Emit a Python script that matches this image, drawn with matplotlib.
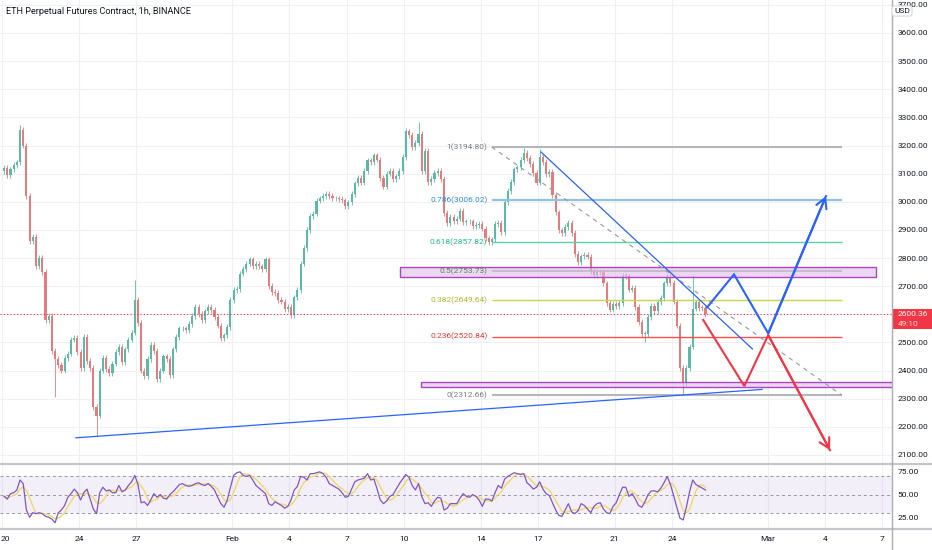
import numpy as np
import pandas as pd
import matplotlib
matplotlib.use("Agg")
import matplotlib.pyplot as plt
from matplotlib.patches import Rectangle
from matplotlib.lines import Line2D
import matplotlib.transforms as mtransforms

plt.rcParams['font.family'] = ['Roboto', 'DejaVu Sans']

# ---------------- data ----------------
TITLE = "ETH Perpetual Futures Contract, 1h, BINANCE"
CANDLE_HOURS = 4            # candles at 4h resolution
first_open = 3110
closes = [
    3120, 3095, 3115, 3130, 3140, 3255, 3200, 3020, 2860, 2875,
    2770, 2800, 2750, 2580, 2595, 2470, 2440, 2420, 2400, 2445,
    2460, 2510, 2515, 2465, 2410, 2520, 2435, 2410, 2270, 2240,
    2400, 2445, 2405, 2390, 2425, 2465, 2485, 2430, 2475, 2510,
    2535, 2650, 2570, 2400, 2380, 2440, 2490, 2470, 2370, 2400,
    2450, 2440, 2385, 2475, 2520, 2550, 2550, 2545, 2565, 2595,
    2625, 2600, 2580, 2610, 2625, 2615, 2590, 2560, 2515, 2525,
    2555, 2650, 2686, 2690, 2745, 2760, 2780, 2795, 2770, 2780,
    2770, 2760, 2795, 2700, 2680, 2675, 2650, 2645, 2618, 2625,
    2598, 2660, 2686, 2780, 2835, 2900, 2950, 2958, 3004, 3012,
    3020, 3028, 3020, 3012, 3012, 3010, 3005, 2985, 2998, 3028,
    3065, 3085, 3068, 3110, 3147, 3140, 3165, 3150, 3085, 3054,
    3100, 3110, 3080, 3090, 3110, 3160, 3250, 3238, 3195, 3210,
    3240, 3110, 3180, 3070, 3080, 3103, 3110, 3080, 2960, 2925,
    2945, 2930, 2940, 2968, 2928, 2930, 2930, 2915, 2918, 2920,
    2905, 2870, 2856, 2866, 2920, 2925, 2892, 3000, 3038, 3070,
    3115, 3122, 3148, 3175, 3155, 3135, 3103, 3068, 3160, 3142,
    3098, 3105, 3025, 2962, 2898, 2890, 2910, 2925, 2890, 2815,
    2785, 2806, 2811, 2805, 2755, 2740, 2752, 2750, 2710, 2640,
    2617, 2636, 2629, 2640, 2737, 2735, 2688, 2695, 2625, 2572,
    2530, 2530, 2590, 2630, 2612, 2643, 2658, 2710, 2733, 2712,
    2645, 2560, 2410, 2355, 2410, 2485, 2620, 2642, 2623, 2622,
    2600.36,
]
# notable wick extremes (candle index -> price)
wick_highs = {5: 3272, 41: 2722, 126: 3262, 130: 3285, 163: 3190, 168: 3188, 216: 2738}
wick_lows = {16: 2307, 29: 2168, 201: 2500, 213: 2312}

rsi = [
    48, 45, 51, 52, 55, 66, 62, 33, 25, 30,
    29, 30, 29, 26, 25, 23, 19, 30, 33, 38,
    47, 51, 56, 52, 44, 52, 56, 45, 34, 29,
    52, 58, 54, 55, 52, 52, 60, 53, 55, 60,
    64, 71, 61, 41, 42, 38, 44, 51, 47, 50,
    46, 45, 50, 53, 57, 61, 62, 60, 59, 60,
    62, 63, 61, 60, 62, 59, 55, 47, 40, 36,
    44, 58, 71, 74, 75, 71, 70, 71, 66, 60,
    57, 54, 51, 40, 38, 42, 40, 38, 35, 37,
    44, 55, 59, 70, 69, 66, 73, 73, 74, 75,
    73, 69, 62, 60, 58, 56, 52, 47, 48, 56,
    64, 66, 67, 68, 73, 66, 67, 56, 44, 40,
    43, 48, 50, 56, 62, 67, 72, 69, 60, 55,
    62, 48, 40, 41, 37, 43, 47, 46, 33, 35,
    40, 40, 40, 46, 51, 48, 47, 50, 48, 44,
    37, 45, 45, 43, 52, 60, 57, 67, 70, 72,
    74, 73, 72, 73, 63, 60, 56, 58, 64, 56,
    51, 49, 41, 33, 27, 26, 33, 40, 31, 29,
    32, 40, 38, 34, 30, 37, 40, 41, 34, 30,
    29, 37, 41, 50, 58, 58, 48, 51, 45, 38,
    36, 42, 50, 54, 54, 53, 57, 63, 70, 61,
    49, 36, 24, 22, 36, 53, 66, 61, 59, 57,
    55,
]

# days since Jan 20
date_tick_days = [0, 4, 7, 12, 15, 18, 21, 25, 28, 32, 35, 40, 43, 46]
date_tick_labels = ['20', '24', '27', 'Feb', '4', '7', '10', '14', '17', '21', '24', 'Mar', '4', '7']
price_ticks = [2100, 2200, 2300, 2400, 2500, 2600, 2700, 2800, 2900, 3000,
               3100, 3200, 3300, 3400, 3500, 3600, 3700]
rsi_ticks = [25, 50, 75]
countdown = "49:10"

fib_t = (25.57, 43.87)
fib_levels = ['1', '0.786', '0.618', '0.5', '0.382', '0.236', '0']
fib_prices = [3194.80, 3006.02, 2857.82, 2753.73, 2649.64, 2520.84, 2312.66]
fib_text_colors = ['#787b86', '#2f8fd8', '#2bb58a', '#5d7f5d', '#a9bb2c', '#e53935', '#787b86']
fib_line_colors = ['#b4b6bc', '#8fc3de', '#5ccfa6', '#959e95', '#c6d64c', '#ef5350', '#b4b6bc']
fib_line_widths = [1.5, 1.6, 1.0, 1.1, 1.0, 1.0, 1.5]

# zones: (t_start, t_end, price_low, price_high)
zones = [(20.78, 45.66, 2734, 2769), (21.88, 47.0, 2340, 2358)]
# trend lines (t, price)
resistance_line = ([28.15, 39.20], [3177, 2477])
support_line = ([3.84, 39.71], [2161, 2333])
bull_path = ([36.84, 38.24, 40.03, 43.05], [2625, 2742, 2532, 3020])
bear_path = ([36.63, 38.78, 40.03, 43.26], [2580, 2345, 2526, 2117])

# ---------------- figure ----------------
W, H = 932, 550
fig = plt.figure(figsize=(W / 100, H / 100), dpi=100)
fig.patch.set_facecolor('white')
ax = fig.add_axes([0, 1 - 463 / H, 892 / W, 463 / H])
rax = fig.add_axes([0, 1 - 528 / H, 892 / W, (528 - 465) / H])

XLIM = (-0.13, 46.5)
GRID = '#eef0f5'
TXT = '#131722'
FS = 6.0

for a in (ax, rax):
    for s in a.spines.values():
        s.set_visible(False)
    a.set_xlim(*XLIM)
    a.set_xticks(date_tick_days)
    a.set_facecolor('white')

# main pane
ax.set_ylim(2071.4, 3717.3)
ax.set_yticks(price_ticks)
ax.set_yticklabels([f"{p:.2f}" for p in price_ticks])
ax.yaxis.tick_right()
ax.tick_params(axis='y', length=0, pad=4, labelsize=FS, labelcolor=TXT)
ax.tick_params(axis='x', length=0, labelbottom=False)
ax.grid(True, color=GRID, lw=0.8, zorder=0)
ax.set_axisbelow(True)

# candles
c = np.array(closes, dtype=float)
n = len(c)
t = (np.arange(n) + 0.5) * CANDLE_HOURS / 24
o = np.r_[first_open, c[:-1]]
WICK = 10
hi = np.maximum(o, c) + WICK
lo = np.minimum(o, c) - WICK
for k, v in wick_highs.items():
    hi[k] = max(hi[k], v)
for k, v in wick_lows.items():
    lo[k] = min(lo[k], v)
UP, DN = '#5bbaa6', '#e57b7b'
cols = [UP if ci >= oi else DN for ci, oi in zip(c, o)]
ax.vlines(t, lo, hi, colors=cols, lw=0.6, zorder=2)
body_h = np.maximum(np.abs(c - o), 3)
ax.bar(t, body_h, bottom=np.minimum(o, c), width=0.11, color=cols, lw=0, zorder=2)

# current price line
last = c[-1]
ax.axhline(last, color='#f23645', ls=(0, (1, 2)), lw=0.8, zorder=2)

# zones
for t0, t1, p0, p1 in zones:
    ax.add_patch(Rectangle((t0, p0), t1 - t0, p1 - p0, fc=(0.88, 0.74, 0.92, 0.6),
                           ec='#ab47bc', lw=1.0, zorder=3, clip_on=True))

# fibonacci
ax.plot(fib_t, [fib_prices[0], fib_prices[-1]], color='#9598a1', ls=(0, (4, 4)), lw=0.8, zorder=3)
for lvl, p, tc, lc, lw in zip(fib_levels, fib_prices, fib_text_colors, fib_line_colors, fib_line_widths):
    ax.plot(fib_t, [p, p], color=lc, lw=lw, zorder=2.5, solid_capstyle='butt')
    ax.annotate(f"{lvl}({p:.2f})", xy=(fib_t[0], p), xytext=(-3, 0),
                textcoords='offset points', ha='right', va='center',
                fontsize=FS, color=tc, zorder=4)

# trend lines
BLUE = '#2962ff'
RED = '#f23645'
ax.plot(*resistance_line, color=BLUE, lw=0.9, zorder=4)
ax.plot(*support_line, color=BLUE, lw=0.9, zorder=4)
for path, col in ((bull_path, BLUE), (bear_path, RED)):
    xs, ys = path
    ax.plot(xs, ys, color=col, lw=1.5, zorder=5, solid_joinstyle='miter')
    ax.annotate('', xy=(xs[-1], ys[-1]), xytext=(xs[-2], ys[-2]),
                arrowprops=dict(arrowstyle='->,head_length=0.5,head_width=0.28',
                                color=col, lw=1.5, shrinkA=0, shrinkB=0,
                                mutation_scale=14), zorder=5)

# current price tag on the axis
trans = mtransforms.blended_transform_factory(ax.transAxes, ax.transData)
ax.add_patch(Rectangle((1.0005, last - 53), 45 / 892, 72, transform=trans,
                       fc='#f23645', ec='none', clip_on=False, zorder=10))
ax.text(1 + 6 / 892, last, f"{last:.2f}", transform=trans, ha='left', va='center',
        fontsize=FS, color='white', zorder=11, clip_on=False)
ax.text(1 + 6 / 892, last - 34, countdown, transform=trans, ha='left', va='center',
        fontsize=FS, color='#ffd5d8', zorder=11, clip_on=False)

# RSI pane
rax.set_ylim(13.2, 82.5)
rax.fill_between(XLIM, 30, 70, color='#7e57c2', alpha=0.09, lw=0, zorder=1)
for lvl in (70, 50, 30):
    rax.axhline(lvl, color='#9598a1', ls=(0, (3, 3)), lw=0.7, zorder=2)
rs = pd.Series(rsi, dtype=float)
rma = rs.rolling(4, min_periods=1).mean()
rax.plot(t, rma, color='#f0d86a', lw=1.0, zorder=3)
rax.plot(t, rs, color='#7e57c2', lw=0.9, zorder=4)
rax.set_yticks(rsi_ticks)
rax.set_yticklabels([f"{v:.2f}" for v in rsi_ticks])
rax.yaxis.tick_right()
rax.tick_params(axis='y', length=0, pad=4, labelsize=FS, labelcolor=TXT)
rax.set_xticklabels(date_tick_labels)
rax.tick_params(axis='x', length=0, pad=6, labelsize=FS, labelcolor=TXT)
rax.grid(True, axis='x', color=GRID, lw=0.8, zorder=0)
rax.set_axisbelow(True)
# keep the first date label inside the picture
first_lbl = rax.get_xticklabels()[0]
first_lbl.set_transform(first_lbl.get_transform() +
                        mtransforms.ScaledTranslation(2.5 / 100, 0, fig.dpi_scale_trans))

# chrome
fig.add_artist(Line2D([0, 1], [1 - 463.5 / H] * 2, color='#c4c6cc', lw=1.6))
fig.add_artist(Line2D([0, 1], [1 - 528.5 / H] * 2, color='#c4c6cc', lw=1.6))
fig.add_artist(Line2D([892 / W] * 2, [0, 1], color='#a9acb4', lw=1.0))
fig.text(6 / W, 1 - 12 / H, TITLE, fontsize=6.6, color=TXT, va='center', ha='left')
fig.text(902 / W, 1 - 11 / H, "USD", fontsize=FS, color=TXT, va='center', ha='center',
         bbox=dict(boxstyle='round,pad=0.25,rounding_size=0.3', fc='white', ec='#d1d4dc', lw=0.7),
         zorder=20)

fig.savefig("out.png", dpi=100, facecolor='white')
